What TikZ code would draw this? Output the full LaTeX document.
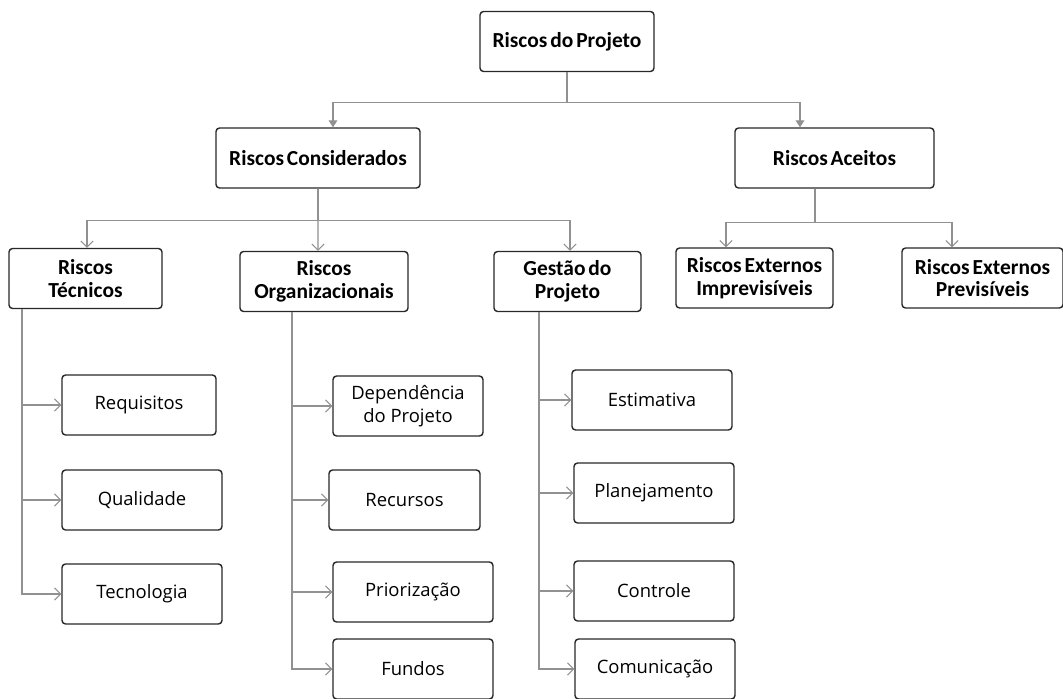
\documentclass[tikz,border=0pt]{standalone}
\usepackage{fontspec}
\setmainfont{Open Sans}
\newfontfamily\headfont[WordSpace=0.6]{Carlito}
\usetikzlibrary{arrows.meta}
\definecolor{linegray}{RGB}{145,145,145}
\definecolor{boxgray}{RGB}{40,40,40}
\tikzset{
headbox/.style={rectangle, rounded corners=2pt, draw=boxgray, fill=white, thick, inner sep=0pt, align=center, font=\headfont\bfseries\fontsize{12.2}{12.8}\selectfont, minimum height=1.2cm},
leafbox/.style={rectangle, rounded corners=2pt, draw=boxgray, fill=white, thick, inner sep=0pt, align=center, font=\fontsize{10.5}{13}\selectfont, minimum width=3.2cm, minimum height=1.2cm},
fillarrow/.style={draw=linegray, semithick, -{Triangle[length=4pt,width=5pt]}},
openarrow/.style={draw=linegray, semithick, -{Straight Barb[length=3.5pt,width=7pt]}},
}
\begin{document}
\begin{tikzpicture}[x=0.02cm,y=-0.02cm]
\useasboundingbox (0,0) rectangle (1063,698);
% upper levels
\node[headbox, minimum width=3.48cm] at (567,41.5) (proj) {Riscos do Projeto};
\node[headbox, minimum width=4.08cm] at (318,158) (cons) {Riscos Considerados};
\node[headbox, minimum width=3.98cm] at (834.5,158) (acei) {Riscos Aceitos};
\node[headbox, minimum width=3.06cm] at (85.5,278.5) (tec) {Riscos\\Técnicos};
\node[headbox, minimum width=3.36cm] at (324,281.5) (org) {Riscos\\Organizacionais};
\node[headbox, minimum width=2.94cm] at (567.5,281.5) (gest) {Gestão do\\Projeto};
\node[headbox, minimum width=3.14cm] at (754.5,278) (impr) {Riscos Externos\\Imprevisíveis};
\node[headbox, minimum width=3.22cm] at (982.5,278) (prev) {Riscos Externos\\Previsíveis};
% leaves
\node[leafbox, minimum width=3.08cm] at (139,405) (req) {Requisitos};
\node[leafbox] at (142,500) (qual) {Qualidade};
\node[leafbox] at (142,594) (tecn) {Tecnologia};
\node[leafbox, minimum width=3.0cm] at (408,406) (dep) {Dependência\\do Projeto};
\node[leafbox, minimum width=3.02cm] at (404.5,500) (recu) {Recursos};
\node[leafbox] at (413,592) (prio) {Priorização};
\node[leafbox] at (413,669) (fund) {Fundos};
\node[leafbox] at (652,400) (esti) {Estimativa};
\node[leafbox] at (654,493) (plan) {Planejamento};
\node[leafbox] at (654,591) (cont) {Controle};
\node[leafbox] at (655,669) (comu) {Comunicação};
% connectors
\draw[fillarrow] (proj.south) -- ++(0,30) -| ([xshift=0.3cm]cons.north);
\draw[fillarrow] (proj.south) -- ++(0,30) -| ([xshift=-0.69cm]acei.north);
\draw[openarrow] (cons.south) -- ++(0,32) -| ([xshift=0.03cm]tec.north);
\draw[openarrow] (cons.south) -- ([xshift=-0.12cm]org.north);
\draw[openarrow] (cons.south) -- ++(0,32) -| ([xshift=0.05cm]gest.north);
\draw[openarrow] ([xshift=-0.39cm]acei.south) -- ++(0,34) -| ([xshift=-0.57cm]impr.north);
\draw[openarrow] ([xshift=-0.39cm]acei.south) -- ++(0,34) -| ([xshift=-0.61cm]prev.north);
\foreach \leaf in {req,qual,tecn}
  \draw[openarrow] ([xshift=-1.27cm]tec.south) |- (\leaf.west);
\foreach \leaf in {dep,recu,prio,fund}
  \draw[openarrow] ([xshift=-0.64cm]org.south) |- (\leaf.west);
\foreach \leaf in {esti,plan,cont,comu}
  \draw[openarrow] ([xshift=-0.57cm]gest.south) |- (\leaf.west);
\end{tikzpicture}
\end{document}
